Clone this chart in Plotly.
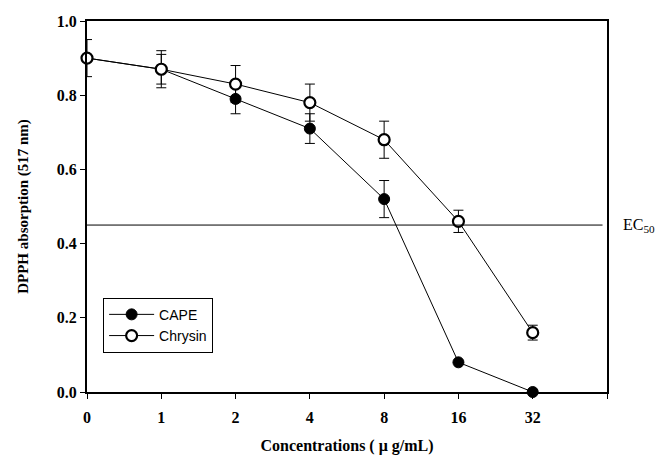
import plotly.graph_objects as go

categories = ["0", "1", "2", "4", "8", "16", "32"]
cape = [0.90, 0.87, 0.79, 0.71, 0.52, 0.08, 0.0]
cape_err = [0.05, 0.04, 0.04, 0.04, 0.05, 0.0, 0.0]
chrysin = [0.90, 0.87, 0.83, 0.78, 0.68, 0.46, 0.16]
chrysin_err = [0.0, 0.05, 0.05, 0.05, 0.05, 0.03, 0.02]
ec50 = 0.45
y_ticks = [0.0, 0.2, 0.4, 0.6, 0.8, 1.0]

xpos = list(range(len(categories)))
serif = "Liberation Serif, Times New Roman, serif"

fig = go.Figure()
fig.add_trace(go.Scatter(
    x=xpos, y=cape, name="CAPE", mode="lines+markers",
    line=dict(color="black", width=1),
    marker=dict(symbol="circle", size=11, color="black", line=dict(color="black", width=1)),
    error_y=dict(type="data", array=cape_err, visible=True, color="black", thickness=1, width=5),
    cliponaxis=False,
))
fig.add_trace(go.Scatter(
    x=xpos, y=chrysin, name="Chrysin", mode="lines+markers",
    line=dict(color="black", width=1),
    marker=dict(symbol="circle", size=11, color="white", line=dict(color="black", width=2.2)),
    error_y=dict(type="data", array=chrysin_err, visible=True, color="black", thickness=1, width=5),
    cliponaxis=False,
))

fig.add_shape(type="line", xref="x", yref="y", x0=0, x1=6.94, y0=ec50, y1=ec50,
              line=dict(color="black", width=1))
fig.add_annotation(xref="paper", yref="y", x=1.027, y=ec50, text="EC<sub>50</sub>",
                   showarrow=False, xanchor="left", yanchor="middle",
                   font=dict(family=serif, size=16, color="black"))

fig.update_layout(
    width=657, height=464,
    margin=dict(l=87, r=50, t=21, b=68),
    paper_bgcolor="white", plot_bgcolor="white",
    showlegend=True,
    legend=dict(x=0.031, y=0.254, xanchor="left", yanchor="top",
                bordercolor="black", borderwidth=1, bgcolor="white",
                font=dict(family="Liberation Sans, Arial, sans-serif", size=14, color="black"),
                tracegroupgap=0, itemwidth=45),
    font=dict(family=serif, color="black"),
)
fig.update_xaxes(
    range=[0, 7], tickvals=xpos, ticktext=categories,
    minor=dict(tickvals=[len(categories)], ticks="outside", ticklen=5, tickcolor="black", tickwidth=1),
    showgrid=False, zeroline=False, showline=True, linecolor="black", linewidth=2,
    mirror=True, ticks="outside", ticklen=5, tickcolor="black", tickwidth=1,
    ticklabelstandoff=5,
    tickfont=dict(family=serif, size=16, color="black", weight="bold"),
    title=dict(text="<b>Concentrations ( μ g/mL)</b>", font=dict(family=serif, size=16, color="black"), standoff=15),
)
fig.update_yaxes(
    range=[0, 1.0], tickvals=y_ticks, ticktext=[f"{v:.1f}" for v in y_ticks],
    showgrid=False, zeroline=False, showline=True, linecolor="black", linewidth=2,
    mirror=True, ticks="outside", ticklen=5, tickcolor="black", tickwidth=1,
    tickfont=dict(family=serif, size=16, color="black", weight="bold"),
    title=dict(text="<b>DPPH absorption (517 nm)</b>", font=dict(family=serif, size=15, color="black"), standoff=25),
)

fig.write_html("out.html", config={"displayModeBar": False},
               post_script="document.body.style.margin='0';")
